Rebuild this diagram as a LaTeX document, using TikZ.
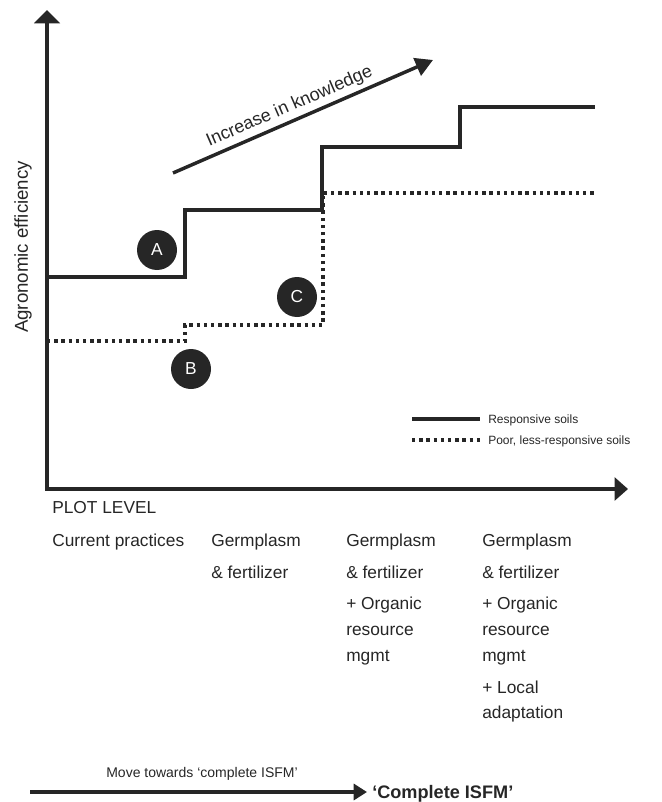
\documentclass[tikz,border=0pt]{standalone}
\usepackage{fontspec}
\setmainfont{Liberation Sans}
\usetikzlibrary{arrows.meta, positioning}
\definecolor{ink}{HTML}{262626}

\begin{document}
\begin{tikzpicture}[x=0.75pt, y=-0.75pt,
    axis/.style = {draw=ink, line width=3pt, line join=miter},
    good/.style = {draw=ink, line width=2.6pt},
    poor/.style = {draw=ink, line width=2.6pt, dash pattern=on 2.6pt off 2.8pt},
    badge/.style = {circle, fill=ink, text=white, minimum size=30pt, inner sep=0pt, font=\fontsize{13}{13}\selectfont},
    lbl/.style = {anchor=base west, inner sep=0pt, text=ink, font=\fontsize{13}{16}\selectfont},
    key/.style = {anchor=base west, inner sep=0pt, text=ink, font=\fontsize{9}{11}\selectfont}]
    \useasboundingbox (0,0) rectangle (661,802);

    % axes
    \coordinate (ytip)   at (47,10);
    \coordinate (origin) at (47,489);
    \coordinate (xtip)   at (628,489);
    \draw[axis, {Triangle[width=19pt, length=10pt]}-{Triangle[width=17pt, length=10pt]}] (ytip) |- (xtip);

    % responsive soils
    \coordinate (r0) at (47,277);
    \coordinate (r1) at (185,210);
    \coordinate (r2) at (322,147);
    \coordinate (r3) at (460,107);
    \coordinate (r4) at (595,107);
    \draw[good] (r0) -| (r1) -| (r2) -| (r3) -- (r4);

    % poor soils
    \coordinate (p0) at (47,341);
    \coordinate (p1) at (185,325);
    \coordinate (p2) at (323,193);
    \coordinate (p3) at (597,193);
    \draw[poor] (p0) -| (p1) -| (p2) -- (p3);

    \node[badge] (A) at (157,250) {A};
    \node[badge] (B) at (191,369) {B};
    \node[badge] (C) at (297,297) {C};

    % knowledge arrow
    \coordinate (k0) at (173,173);
    \coordinate (k1) at (433,60);
    \draw[draw=ink, line width=2.6pt, -{Triangle[width=14pt, length=13pt]}] (k0) -- node[pos=0.47, sloped, above=3pt, inner sep=0pt, text=ink, font=\fontsize{13.5}{14}\selectfont] (know) {Increase in knowledge} (k1);

    \node[rotate=90, inner sep=0pt, text=ink, font=\fontsize{14}{14}\selectfont] (yl) at (23,247) {Agronomic efficiency};

    % legend
    \coordinate (l1a) at (412,419);
    \coordinate (l1b) at (480,419);
    \coordinate (l2a) at (412,440);
    \coordinate (l2b) at (480,440);
    \draw[good] (l1a) -- (l1b);
    \draw[poor] (l2a) -- (l2b);
    \node[key] (resp) at (488,423) {Responsive soils};
    \node[key] (less) at (488,444) {Poor, less-responsive soils};

    % practice columns
    \node[lbl] (plot) at (52,513) {PLOT LEVEL};
    \node[lbl] (cur)  at (52,546) {Current practices};
    \node[lbl] (g2a)  at (211,546) {Germplasm};
    \node[lbl] (g2b)  at (211,578) {\& fertilizer};
    \node[lbl] (g3a)  at (346,546) {Germplasm};
    \node[lbl] (g3b)  at (346,578) {\& fertilizer};
    \node[lbl] (g3c)  at (346,609) {+ Organic};
    \node[lbl] (g3d)  at (346,635) {resource};
    \node[lbl] (g3e)  at (346,661) {mgmt};
    \node[lbl] (g4a)  at (482,546) {Germplasm};
    \node[lbl] (g4b)  at (482,578) {\& fertilizer};
    \node[lbl] (g4c)  at (482,609) {+ Organic};
    \node[lbl] (g4d)  at (482,635) {resource};
    \node[lbl] (g4e)  at (482,661) {mgmt};
    \node[lbl] (g4f)  at (482,693) {+ Local};
    \node[lbl] (g4g)  at (482,718) {adaptation};

    % move towards complete ISFM
    \coordinate (m0) at (30,792);
    \coordinate (m1) at (367,792);
    \draw[draw=ink, line width=2.4pt, -{Triangle[width=12pt, length=10pt]}] (m0) -- (m1);
    \node[anchor=base, inner sep=0pt, text=ink, font=\fontsize{10.5}{12}\selectfont] (move) at (202,777) {Move towards ‘complete ISFM’};
    \node[lbl, font=\fontsize{13.6}{16}\bfseries] (full) at (372,798) {‘Complete ISFM’};
\end{tikzpicture}
\end{document}
